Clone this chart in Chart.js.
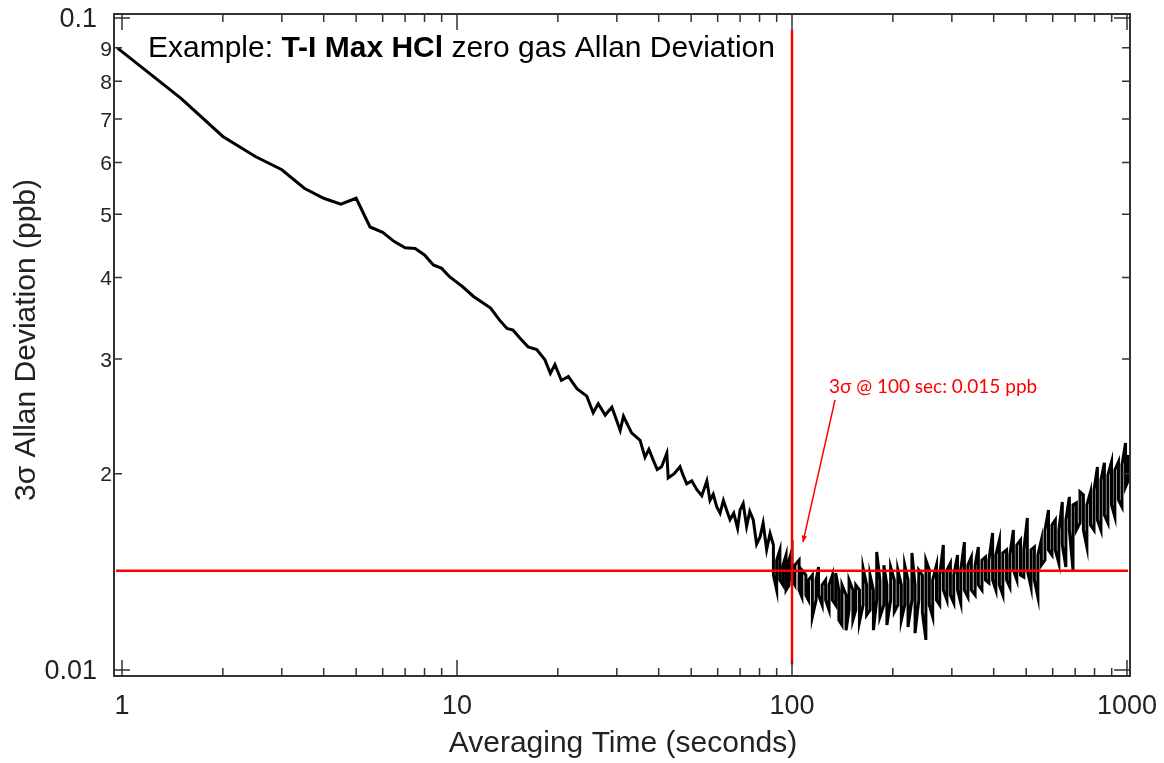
<!DOCTYPE html>
<html>
<head>
<meta charset="utf-8">
<script src="https://cdn.jsdelivr.net/npm/chart.js@4/dist/chart.umd.min.js"></script>
<style>
    body { margin: 0; background: #fff; }
    canvas { display: block; }
</style>
</head>
<body>
<canvas id="grafico" width="1164" height="763"></canvas>
<script>
// Tiempo de promedio (s) y desviacion de Allan 3 sigma (ppb), tramo suave
const tau = [
    0.97, 1.5, 2, 2.5, 3, 3.5, 4, 4.5, 5, 5.5, 6, 6.5, 7, 7.5, 8, 8.5, 9, 9.5,
    10.2, 10.4, 11.2, 12.0, 12.6, 13.4, 14.1, 14.7, 15.4, 16.3, 17.3, 18.3, 19.0, 19.6, 20.5, 21.5,
    22.8, 24.4, 25.5, 26.4, 27.7, 29.0, 30.7, 31.4, 33.2,
    35.2, 36.4, 37.4, 38.5, 39.6, 40.8, 42.3, 42.7, 44.5, 46.3, 47.3, 48.5, 50.2, 52.0, 53.8, 55.7, 56.9, 58.2,
    59.6, 61.0, 62.4, 63.8, 65.3, 67.0, 68.8, 70.0, 71.5, 73.2, 74.8, 76.6, 78.4, 80.3, 82.0, 84.0, 86.0
];
const sigma = [
    0.0899, 0.0753, 0.0658, 0.0613, 0.0585, 0.0548, 0.0529, 0.0518, 0.0529, 0.0478, 0.0469, 0.0454, 0.0444, 0.0443, 0.0433, 0.0418, 0.0413, 0.0401,
    0.0390, 0.0387, 0.0374, 0.0365, 0.0359, 0.0344, 0.0334, 0.0332, 0.0323, 0.0313, 0.0310, 0.0299, 0.0285, 0.0294, 0.0278, 0.0282,
    0.0270, 0.0263, 0.0248, 0.0256, 0.0246, 0.0253, 0.0233, 0.0245, 0.0231,
    0.0225, 0.0212, 0.0218, 0.0210, 0.0203, 0.0205, 0.0215, 0.0197, 0.0200, 0.0205, 0.0199, 0.0193, 0.0195, 0.0189, 0.0185, 0.0195, 0.0182, 0.0186,
    0.0178, 0.0174, 0.0182, 0.0176, 0.0170, 0.0174, 0.0165, 0.0176, 0.0180, 0.0166, 0.0175, 0.0170, 0.0156, 0.0160, 0.0168, 0.0153, 0.0162
];

// Tramo ruidoso: en cada tau, pico alto y pico bajo
const tauCola = [
    88, 90, 92, 94, 96, 98, 100, 102, 105, 107, 110, 112, 115, 118, 120, 123, 126, 129, 132, 135,
    138, 141, 145, 148, 152, 155, 159, 163, 167, 171, 175, 179, 183, 188, 192, 197, 202, 207, 212, 217,
    222, 228, 233, 239, 245, 251, 257, 263, 270, 276, 283, 290, 297, 304, 312, 319, 327, 335, 343, 352,
    360, 369, 378, 387, 397, 406, 416, 426, 437, 447, 458, 469, 481, 492, 504, 517, 529, 542, 555, 569,
    583, 597, 611, 626, 641, 657, 673, 690, 706, 724, 741, 759, 778, 797, 816, 836, 856, 877, 899, 920,
    943, 966, 990, 1010
];
const sigmaAlta = [
    0.01555, 0.01474, 0.01528, 0.01448, 0.01501, 0.01474, 0.01528, 0.01448, 0.01474, 0.01423,
    0.01398, 0.01374, 0.01398, 0.01374, 0.01438, 0.01350, 0.01374, 0.01350, 0.01398, 0.01408,
    0.01326, 0.01350, 0.01303, 0.01374, 0.01326, 0.01350, 0.01326, 0.01433, 0.01350, 0.01398,
    0.01326, 0.01517, 0.01374, 0.01448, 0.01350, 0.01438, 0.01374, 0.01423, 0.01350, 0.01448,
    0.01374, 0.01512, 0.01350, 0.01423, 0.01398, 0.01474, 0.01423, 0.01374, 0.01448, 0.01398,
    0.01555, 0.01423, 0.01458, 0.01398, 0.01501, 0.01423, 0.01571, 0.01448, 0.01490, 0.01448,
    0.01544, 0.01474, 0.01490, 0.01474, 0.01622, 0.01501, 0.01582, 0.01512, 0.01528, 0.01501,
    0.01639, 0.01555, 0.01582, 0.01528, 0.01711, 0.01528, 0.01544, 0.01501, 0.01582, 0.01639,
    0.01759, 0.01669, 0.01699, 0.01639, 0.01810, 0.01699, 0.01843, 0.01791, 0.01804, 0.01875,
    0.01855, 0.01791, 0.01875, 0.01888, 0.02048, 0.01956, 0.02078, 0.01991, 0.02085, 0.02026,
    0.02085, 0.02063, 0.02229, 0.02137
];
const sigmaBaja = [
    0.01398, 0.01326, 0.01374, 0.01350, 0.01326, 0.01350, 0.01374, 0.01350, 0.01326, 0.01294,
    0.01303, 0.01280, 0.01206, 0.01280, 0.01303, 0.01258, 0.01280, 0.01236, 0.01280, 0.01258,
    0.01193, 0.01172, 0.01151, 0.01236, 0.01193, 0.01236, 0.01185, 0.01258, 0.01214, 0.01236,
    0.01151, 0.01280, 0.01206, 0.01258, 0.01172, 0.01280, 0.01227, 0.01258, 0.01193, 0.01258,
    0.01164, 0.01280, 0.01139, 0.01280, 0.01227, 0.01112, 0.01258, 0.01206, 0.01280, 0.01258,
    0.01326, 0.01280, 0.01303, 0.01267, 0.01326, 0.01267, 0.01326, 0.01294, 0.01326, 0.01303,
    0.01350, 0.01326, 0.01374, 0.01360, 0.01374, 0.01326, 0.01350, 0.01303, 0.01374, 0.01340,
    0.01423, 0.01374, 0.01398, 0.01388, 0.01423, 0.01340, 0.01374, 0.01294, 0.01448, 0.01474,
    0.01528, 0.01501, 0.01528, 0.01458, 0.01555, 0.01438, 0.01639, 0.01423, 0.01639, 0.01681,
    0.01639, 0.01544, 0.01669, 0.01639, 0.01699, 0.01639, 0.01729, 0.01681, 0.01791, 0.01717,
    0.01823, 0.01779, 0.01908, 0.01956
];

// Lineas de referencia (rojo)
const refTau = 100;
const refSigma = 0.0142;
const refVertical = [0.0958, 0.0102];   // extremos en y
const refHorizontal = [0.96, 1007];     // extremos en x

// Anotacion
const notaTexto = '3\u03c3 @ 100 sec: 0.015 ppb';
const notaPos = [128.9, 0.0272];
const flechaDesde = [134.4, 0.02595];
const flechaHasta = [107.8, 0.01571];

// Ejes
const xMin = 0.9465, xMax = 1020.8;
const yMin = 0.00979, yMax = 0.1014;
const xTickValues = [1, 10, 100, 1000];
const xTickLabels = ['1', '10', '100', '1000'];
const yTickValues = [0.1, 0.09, 0.08, 0.07, 0.06, 0.05, 0.04, 0.03, 0.02, 0.01];
const yTickLabels = ['0.1', '9', '8', '7', '6', '5', '4', '3', '2', '0.01'];
const xMinorTicks = [2, 3, 4, 5, 6, 7, 8, 9, 20, 30, 40, 50, 60, 70, 80, 90, 200, 300, 400, 500, 600, 700, 800, 900];

const FUENTE = "'Liberation Sans', Arial, sans-serif";
const GRIS = '#333333';

// Plugin para marco, marcas internas, etiquetas y textos
const decoracion = {
    id: 'decoracion',
    afterDatasetsDraw(chart) {
        const ctx = chart.ctx;
        const area = chart.chartArea;
        const sx = chart.scales.x;
        const sy = chart.scales.y;
        ctx.save();

        // marco
        ctx.strokeStyle = GRIS;
        ctx.lineWidth = 2;
        ctx.strokeRect(area.left, area.top, area.right - area.left, area.bottom - area.top);

        // marcas eje x (arriba y abajo)
        ctx.lineWidth = 1.5;
        const marcaX = (v, largo) => {
            const px = sx.getPixelForValue(v);
            ctx.beginPath();
            ctx.moveTo(px, area.bottom); ctx.lineTo(px, area.bottom - largo);
            ctx.moveTo(px, area.top); ctx.lineTo(px, area.top + largo);
            ctx.stroke();
        };
        xTickValues.forEach(v => marcaX(v, 16));
        xMinorTicks.forEach(v => marcaX(v, 8));

        // marcas eje y (izquierda y derecha)
        yTickValues.forEach(v => {
            const py = sy.getPixelForValue(v);
            const largo = (v === 0.1 || v === 0.01) ? 16 : 8;
            ctx.beginPath();
            ctx.moveTo(area.left, py); ctx.lineTo(area.left + largo, py);
            ctx.moveTo(area.right, py); ctx.lineTo(area.right - largo, py);
            ctx.stroke();
        });

        // etiquetas eje y
        ctx.fillStyle = '#222';
        ctx.textAlign = 'right';
        ctx.textBaseline = 'middle';
        yTickValues.forEach((v, i) => {
            const py = sy.getPixelForValue(v) + 2;
            const mayor = (v === 0.1 || v === 0.01);
            ctx.font = (mayor ? '27px ' : '21px ') + FUENTE;
            ctx.fillText(yTickLabels[i], mayor ? area.left - 17 : area.left - 2, py);
        });

        // etiquetas eje x
        ctx.textAlign = 'center';
        ctx.font = '27px ' + FUENTE;
        xTickValues.forEach((v, i) => {
            ctx.fillText(xTickLabels[i], sx.getPixelForValue(v), 707);
        });

        // titulos de ejes
        ctx.font = '30px ' + FUENTE;
        ctx.fillText('Averaging Time (seconds)', 623, 744);
        ctx.save();
        ctx.translate(27, 340);
        ctx.rotate(-Math.PI / 2);
        ctx.fillText('3\u03c3 Allan Deviation (ppb)', 0, 0);
        ctx.restore();

        // titulo dentro del grafico
        ctx.fillStyle = '#000';
        ctx.textAlign = 'left';
        ctx.textBaseline = 'alphabetic';
        let x = 148;
        const partes = [['Example: ', ''], ['T-I Max HCl', 'bold '], [' zero gas Allan Deviation', '']];
        partes.forEach(([t, peso]) => {
            ctx.font = peso + '30px ' + FUENTE;
            ctx.fillText(t, x, 57);
            x += ctx.measureText(t).width;
        });

        // anotacion en rojo
        ctx.fillStyle = '#ff0000';
        ctx.strokeStyle = '#ff0000';
        ctx.font = "19px Lato, 'Open Sans', sans-serif";
        ctx.textBaseline = 'middle';
        ctx.fillText(notaTexto, sx.getPixelForValue(notaPos[0]), sy.getPixelForValue(notaPos[1]));

        const x1 = sx.getPixelForValue(flechaDesde[0]), y1 = sy.getPixelForValue(flechaDesde[1]);
        const x2 = sx.getPixelForValue(flechaHasta[0]), y2 = sy.getPixelForValue(flechaHasta[1]);
        ctx.lineWidth = 1.5;
        ctx.beginPath();
        ctx.moveTo(x1, y1); ctx.lineTo(x2, y2);
        ctx.stroke();
        const ang = Math.atan2(y2 - y1, x2 - x1);
        ctx.beginPath();
        ctx.moveTo(x2, y2);
        ctx.lineTo(x2 - 7 * Math.cos(ang - 0.4), y2 - 7 * Math.sin(ang - 0.4));
        ctx.lineTo(x2 - 7 * Math.cos(ang + 0.4), y2 - 7 * Math.sin(ang + 0.4));
        ctx.closePath();
        ctx.fill();

        ctx.restore();
    }
};

// Serie completa: tramo suave + picos verticales del tramo ruidoso
const datos = tau.map((t, i) => ({ x: t, y: sigma[i] }));
tauCola.forEach((t, i) => {
    const alta = { x: t, y: sigmaAlta[i] };
    const baja = { x: t, y: sigmaBaja[i] };
    if (i % 2 === 0) {
        datos.push(alta, baja);
    } else {
        datos.push(baja, alta);
    }
});

new Chart(document.getElementById('grafico'), {
    type: 'line',
    data: {
        datasets: [
            {
                label: 'ref vertical',
                data: [{ x: refTau, y: refVertical[0] }, { x: refTau, y: refVertical[1] }],
                borderColor: '#ff0000',
                borderWidth: 2.5,
                pointRadius: 0,
                order: 0
            },
            {
                label: 'ref horizontal',
                data: [{ x: refHorizontal[0], y: refSigma }, { x: refHorizontal[1], y: refSigma }],
                borderColor: '#ff0000',
                borderWidth: 2.5,
                pointRadius: 0,
                order: 0
            },
            {
                label: 'Allan',
                data: datos,
                borderColor: '#000000',
                borderWidth: 3,
                pointRadius: 0,
                tension: 0,
                order: 1
            }
        ]
    },
    options: {
        responsive: false,
        animation: false,
        layout: { padding: { left: 114, right: 34, top: 14, bottom: 87 } },
        plugins: {
            legend: { display: false },
            tooltip: { enabled: false }
        },
        scales: {
            x: { type: 'logarithmic', min: xMin, max: xMax, display: false },
            y: { type: 'logarithmic', min: yMin, max: yMax, display: false }
        }
    },
    plugins: [decoracion]
});
</script>
</body>
</html>
